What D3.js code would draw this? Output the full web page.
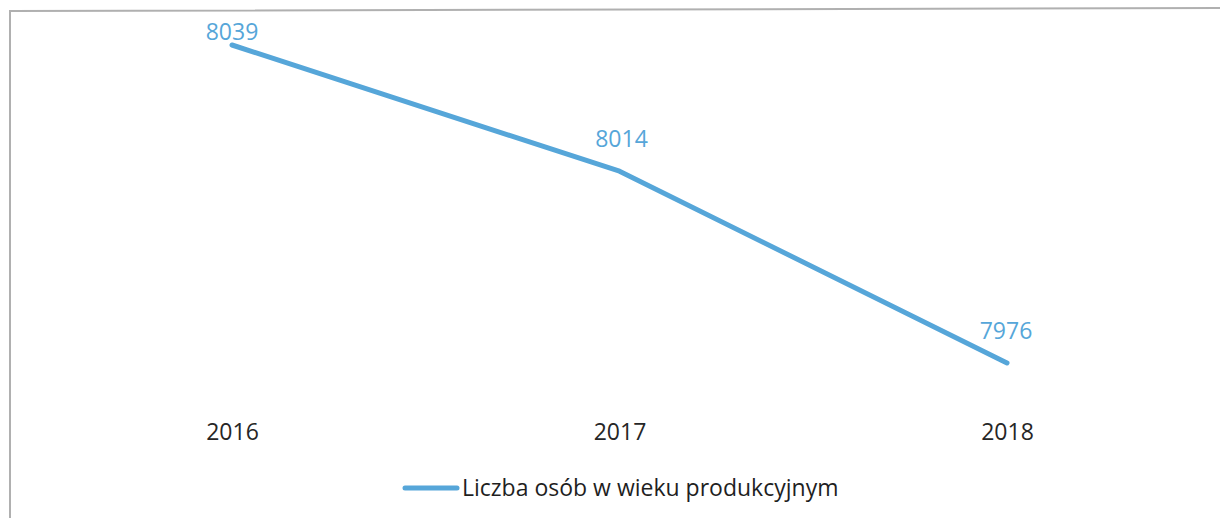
<!DOCTYPE html>
<html>
<head>
<meta charset="utf-8">
<script src="https://cdn.jsdelivr.net/npm/d3@7"></script>
<style>
  body { margin: 0; background: #fff; }
  text { font-family: "Open Sans", "Noto Sans", sans-serif; }
</style>
</head>
<body>
<div id="container"></div>
<script>
/* DATA */
const years = ["2016", "2017", "2018"];
const values = [8039, 8014, 7976];
const seriesName = "Liczba osób w wieku produkcyjnym";

/* CONSTANTS */
const width = 1220;
const height = 518;
const lineColor = "#56a6d9";

const svg = d3.select("#container")
  .append("svg")
  .attr("width", width)
  .attr("height", height);

// frame (only top and left edges are visible in the scan)
svg.append("path")
  .attr("d", "M10,518 L10,11 L1220,8")
  .attr("fill", "none")
  .attr("stroke", "#b0b0b0")
  .attr("stroke-width", 2);

// SCALES
const x = d3.scalePoint()
  .domain(years)
  .range([232, 1007]);

const y = d3.scaleLinear()
  .domain([7976, 8039])
  .range([363, 45]);

// LINE
const line = d3.line()
  .x((d, i) => x(years[i]))
  .y(d => y(d));

svg.append("path")
  .datum(values)
  .attr("fill", "none")
  .attr("stroke", lineColor)
  .attr("stroke-width", 5)
  .attr("stroke-linecap", "round")
  .attr("stroke-linejoin", "round")
  .attr("d", line);

// DATA LABELS (above the point, kept inside the chart area)
svg.selectAll(".data-label")
  .data(values)
  .join("text")
  .attr("class", "data-label")
  .attr("x", (d, i) => x(years[i]) + (i === 0 ? 0 : i === 1 ? 2 : -1))
  .attr("y", d => Math.max(40, y(d) - 24))
  .attr("text-anchor", "middle")
  .attr("font-size", 23)
  .attr("fill", lineColor)
  .text(d => d);

// X AXIS LABELS
const xAxis = svg.append("g")
  .attr("transform", "translate(0,440)")
  .call(d3.axisBottom(x).tickSize(0).tickPadding(0));
xAxis.select(".domain").remove();
xAxis.selectAll("text")
  .attr("dy", 0)
  .attr("font-size", 23)
  .attr("font-family", "Open Sans, Noto Sans, sans-serif")
  .attr("fill", "#262626");

// LEGEND
const legend = svg.append("g").attr("transform", "translate(405,488)");
legend.append("line")
  .attr("x1", 0).attr("x2", 52)
  .attr("y1", 0).attr("y2", 0)
  .attr("stroke", lineColor)
  .attr("stroke-width", 5)
  .attr("stroke-linecap", "round");
legend.append("text")
  .attr("x", 57)
  .attr("y", 8)
  .attr("font-size", 23)
  .attr("fill", "#1f1f1f")
  .text(seriesName);
</script>
</body>
</html>
